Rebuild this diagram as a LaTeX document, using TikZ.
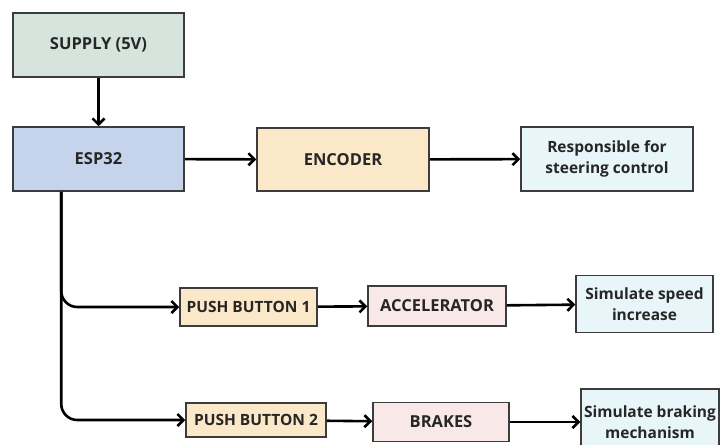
\documentclass[tikz,border=0pt]{standalone}
\usepackage{fontspec}
\setmainfont{Open Sans}
\usetikzlibrary{arrows.meta}
\definecolor{supplyc}{RGB}{213,228,220}
\definecolor{espc}{RGB}{197,212,235}
\definecolor{yelc}{RGB}{250,232,200}
\definecolor{pinkc}{RGB}{248,232,232}
\definecolor{cyanc}{RGB}{232,246,250}
\definecolor{edgec}{RGB}{60,60,60}
\tikzset{blk/.style={draw=edgec, line width=1.5pt, align=center, inner sep=0pt,
  font=\fontsize{16.5}{22}\selectfont\bfseries, text=black!85},
  blksmall/.style={blk, font=\fontsize{15.5}{21}\selectfont\bfseries}}
\begin{document}
\begin{tikzpicture}[x=1pt, y=-1pt, >={Straight Barb[length=6pt,width=12pt]}, line width=2.6pt]
\useasboundingbox (0,0) rectangle (722,444);
\clip (0,0) rectangle (722,444);
\node[blk, fill=supplyc, minimum width=171pt, minimum height=64pt] (supply) at (98.5,45) {SUPPLY (5V)};
\node[blk, fill=espc, minimum width=171pt, minimum height=64pt] (esp) at (98.5,159) {ESP32};
\node[blk, fill=yelc, minimum width=172pt, minimum height=63pt] (enc) at (343,159.5) {ENCODER};
\node[blksmall, fill=cyanc, minimum width=172pt, minimum height=64pt] (resp) at (607,159) {Responsible for\\steering control};
\node[blksmall, fill=yelc, minimum width=137pt, minimum height=38pt] (pbone) at (248.5,307) {PUSH BUTTON 1};
\node[blk, fill=pinkc, minimum width=138pt, minimum height=40pt] (accel) at (437,306) {ACCELERATOR};
\node[blksmall, fill=cyanc, minimum width=137pt, minimum height=57pt] (simspeed) at (644.5,304) {Simulate speed\\increase};
\node[blksmall, fill=yelc, minimum width=140pt, minimum height=34pt] (pbtwo) at (256,420) {PUSH BUTTON 2};
\node[blk, fill=pinkc, minimum width=136pt, minimum height=39pt] (brakes) at (441,422) {BRAKES};
\node[blksmall, fill=cyanc, minimum width=138pt, minimum height=66pt] (simbrake) at (650,422) {Simulate braking\\mechanism};
\coordinate (trunk) at ([xshift=49pt]esp.south west);
\draw[->] (supply) -- (esp);
\draw[->] (esp) -- (enc);
\draw[->] (enc) -- (resp);
\draw[->, rounded corners=16pt] (trunk) |- (pbone);
\draw[->, rounded corners=16pt] (trunk) |- (pbtwo);
\draw[->] (pbone) -- (accel);
\draw[->] (accel) -- (simspeed);
\draw[->] (pbtwo) -- (brakes);
\draw[->] (brakes) -- (simbrake);
\end{tikzpicture}
\end{document}
